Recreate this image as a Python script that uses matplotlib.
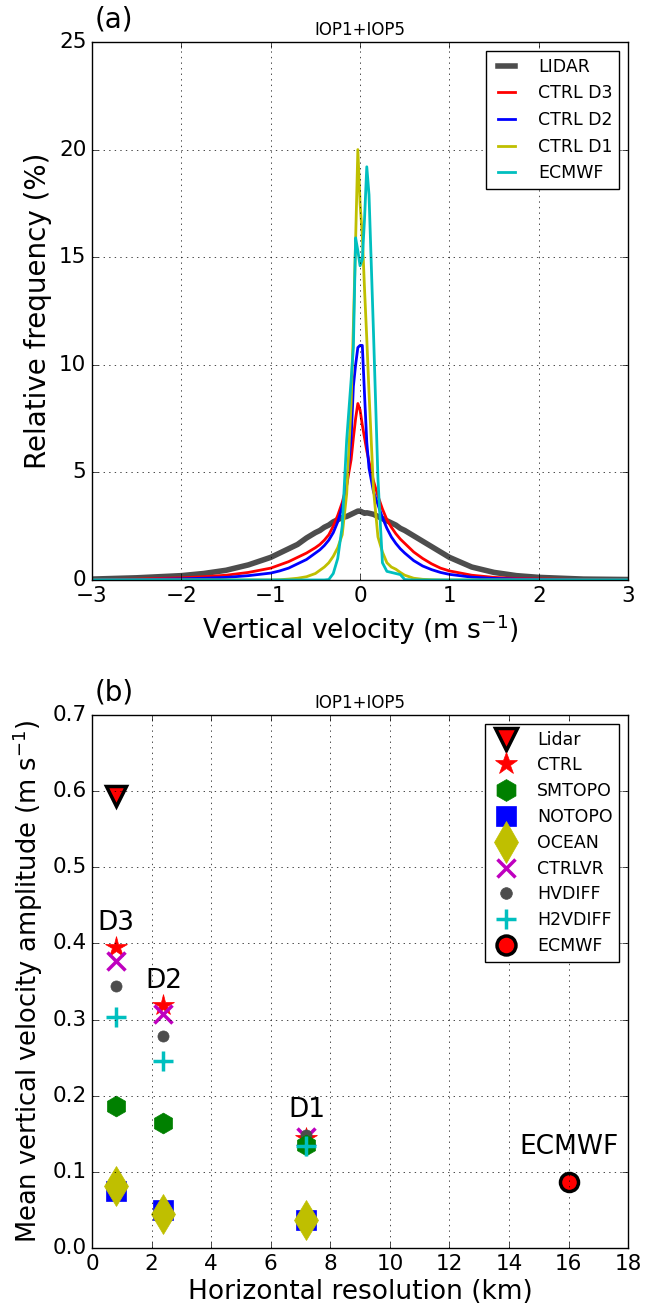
import matplotlib
matplotlib.use('Agg')
import matplotlib.pyplot as plt

# ---- panel (a): PDFs of vertical velocity ----
w = [-3.0, -2.5, -2.0, -1.75, -1.5, -1.25, -1.0, -0.9, -0.8, -0.7, -0.6, -0.5,
     -0.45, -0.4, -0.35, -0.3, -0.25, -0.2, -0.15, -0.1, -0.075, -0.05, -0.025,
     0.0, 0.025, 0.05, 0.075, 0.1, 0.15, 0.2, 0.25, 0.3, 0.35, 0.4, 0.45, 0.5,
     0.6, 0.7, 0.8, 0.9, 1.0, 1.25, 1.5, 1.75, 2.0, 2.5, 3.0]

lidar = [0.04, 0.1, 0.2, 0.3, 0.45, 0.7, 1.05, 1.25, 1.45, 1.65, 1.95, 2.2,
         2.3, 2.45, 2.55, 2.7, 2.8, 2.9, 2.95, 3.05, 3.1, 3.15, 3.2,
         3.2, 3.15, 3.1, 3.12, 3.1, 3.05, 2.95, 2.85, 2.75, 2.65, 2.55, 2.4, 2.3,
         2.05, 1.8, 1.55, 1.3, 1.05, 0.6, 0.35, 0.2, 0.12, 0.04, 0.02]

ctrl_d3 = [0.02, 0.04, 0.1, 0.15, 0.22, 0.35, 0.55, 0.7, 0.85, 1.05, 1.25, 1.5,
           1.65, 1.85, 2.1, 2.5, 3.0, 3.6, 4.4, 5.6, 6.6, 7.5, 8.2,
           7.9, 7.2, 6.6, 6.0, 5.5, 4.6, 3.9, 3.3, 2.8, 2.45, 2.15, 1.9, 1.7,
           1.3, 1.0, 0.75, 0.55, 0.42, 0.22, 0.12, 0.07, 0.05, 0.02, 0.01]

ctrl_d2 = [0.01, 0.02, 0.05, 0.08, 0.12, 0.2, 0.32, 0.42, 0.55, 0.75, 0.95, 1.25,
           1.4, 1.6, 1.85, 2.2, 2.7, 3.4, 4.4, 6.6, 9.0, 10.0, 10.8,
           10.9, 10.9, 8.6, 6.4, 5.2, 4.1, 3.5, 2.9, 2.4, 2.0, 1.7, 1.45, 1.25,
           0.9, 0.65, 0.48, 0.35, 0.26, 0.13, 0.07, 0.04, 0.03, 0.01, 0.01]

ctrl_d1 = [0.0, 0.0, 0.0, 0.0, 0.0, 0.0, 0.0, 0.01, 0.04, 0.08, 0.15, 0.3,
           0.45, 0.6, 0.8, 1.1, 1.5, 2.1, 4.0, 8.2, 11.8, 15.8, 20.0,
           17.5, 16.0, 13.5, 11.2, 8.7, 4.2, 2.0, 1.3, 0.8, 0.6, 0.5, 0.35, 0.22,
           0.08, 0.03, 0.01, 0.0, 0.0, 0.0, 0.0, 0.0, 0.0, 0.0, 0.0]

ecmwf = [0.0, 0.0, 0.0, 0.0, 0.0, 0.0, 0.0, 0.0, 0.0, 0.0, 0.0, 0.0,
         0.0, 0.0, 0.02, 0.3, 1.0, 2.5, 6.5, 9.3, 10.8, 15.9, 15.3,
         14.6, 14.9, 16.8, 19.2, 17.9, 11.5, 4.7, 0.8, 0.4, 0.35, 0.3, 0.25, 0.02,
         0.0, 0.0, 0.0, 0.0, 0.0, 0.0, 0.0, 0.0, 0.0, 0.0, 0.0]

# ---- panel (b): mean amplitude vs resolution ----
res = [0.8, 2.4, 7.2]
lidar_res = 0.8
lidar_amp = 0.593
ctrl = [0.395, 0.319, 0.145]
smtopo = [0.186, 0.164, 0.135]
notopo = [0.075, 0.050, 0.037]
ocean = [0.081, 0.044, 0.037]
ctrlvr = [0.377, 0.307, 0.146]
hvdiff = [0.344, 0.278, 0.149]
h2vdiff = [0.303, 0.246, 0.134]
ecmwf_res = 16.0
ecmwf_amp = 0.086
domain_labels = ['D3', 'D2', 'D1']

plt.style.use('classic')
plt.rcParams['mathtext.fontset'] = 'dejavusans'
plt.rcParams['font.family'] = 'DejaVu Sans'

fig = plt.figure(figsize=(6.46, 13.16), dpi=100, facecolor='white')

ax1 = fig.add_axes([0.1424, 0.5593, 0.830, 0.4088])
ax1.plot(w, lidar, color='0.3', lw=4, label='LIDAR')
ax1.plot(w, ctrl_d3, color='r', lw=2, label='CTRL D3')
ax1.plot(w, ctrl_d2, color='b', lw=2, label='CTRL D2')
ax1.plot(w, ctrl_d1, color='y', lw=2, label='CTRL D1')
ax1.plot(w, ecmwf, color='c', lw=2, label='ECMWF')
ax1.set_xlim(-3, 3)
ax1.set_ylim(0, 25)
ax1.grid(True)
ax1.tick_params(labelsize=15.5)
ax1.set_xlabel('Vertical velocity (m s$^{-1}$)', fontsize=19, labelpad=5)
ax1.set_ylabel('Relative frequency (%)', fontsize=20)
ax1.set_title('IOP1+IOP5', fontsize=12)
ax1.text(0.005, 1.015, '(a)', transform=ax1.transAxes, fontsize=20,
         ha='left', va='bottom')
ax1.legend(loc='upper right', fontsize=12.5, handlelength=1.6, handletextpad=1.0)

ax2 = fig.add_axes([0.1424, 0.0517, 0.830, 0.405])
h_ctrl, = ax2.plot(res, ctrl, ls='none', marker='*', ms=16, color='r', mec='r', label='CTRL')
h_ctrlvr, = ax2.plot(res, ctrlvr, ls='none', marker='x', ms=13, mew=2.5, color='m', label='CTRLVR')
h_hvdiff, = ax2.plot(res, hvdiff, ls='none', marker='o', ms=8, color='0.3', mec='0.3', label='HVDIFF')
h_smtopo, = ax2.plot(res, smtopo, ls='none', marker='h', ms=15, color='g', mec='g', label='SMTOPO')
h_notopo, = ax2.plot(res, notopo, ls='none', marker='s', ms=14, color='b', mec='b', label='NOTOPO')
h_ocean, = ax2.plot(res, ocean, ls='none', marker='d', ms=20, color='y', mec='y', label='OCEAN')
h_h2v, = ax2.plot(res, h2vdiff, ls='none', marker='+', ms=14, mew=2.5, color='c', label='H2VDIFF')
h_lidar, = ax2.plot([lidar_res], [lidar_amp], ls='none', marker='v', ms=15, color='r',
                    mec='k', mew=2.5, label='Lidar')
h_ec, = ax2.plot([ecmwf_res], [ecmwf_amp], ls='none', marker='o', ms=13, color='r',
                 mec='k', mew=2.5, label='ECMWF')

for x, top, lab in zip(res, [ctrl[0], ctrl[1], hvdiff[2]], domain_labels):
    ax2.text(x, top + 0.015, lab, ha='center', va='bottom', fontsize=19)
ax2.text(ecmwf_res, ecmwf_amp + 0.03, 'ECMWF', ha='center', va='bottom', fontsize=19)

ax2.set_xlim(0, 18)
ax2.set_ylim(0, 0.7)
ax2.set_xticks(range(0, 19, 2))
ax2.grid(True)
ax2.tick_params(labelsize=15.5)
ax2.set_xlabel('Horizontal resolution (km)', fontsize=19, labelpad=4)
ax2.set_ylabel('Mean vertical velocity amplitude (m s$^{-1}$)', fontsize=18.5)
ax2.set_title('IOP1+IOP5', fontsize=12)
ax2.text(0.005, 1.015, '(b)', transform=ax2.transAxes, fontsize=20,
         ha='left', va='bottom')
ax2.legend([h_lidar, h_ctrl, h_smtopo, h_notopo, h_ocean, h_ctrlvr, h_hvdiff, h_h2v, h_ec],
           ['Lidar', 'CTRL', 'SMTOPO', 'NOTOPO', 'OCEAN', 'CTRLVR', 'HVDIFF', 'H2VDIFF', 'ECMWF'],
           loc='upper right', fontsize=12.5, numpoints=1, markerscale=1.05,
           labelspacing=0.45, handlelength=1.6, handletextpad=1.0)

fig.savefig('out.png', dpi=100, facecolor='white')
